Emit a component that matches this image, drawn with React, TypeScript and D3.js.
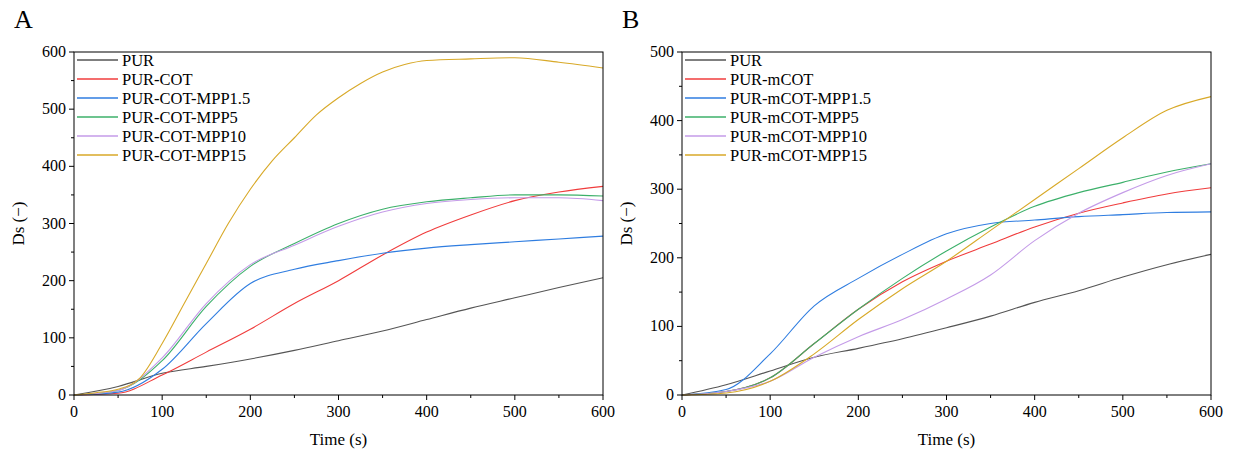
import React from "react";
import * as d3 from "d3";

const xs = [0, 50, 100, 150, 200, 250, 300, 350, 400, 450, 500, 550, 600];
const namesA = ["PUR", "PUR-COT", "PUR-COT-MPP1.5", "PUR-COT-MPP5", "PUR-COT-MPP10", "PUR-COT-MPP15"];
const namesB = ["PUR", "PUR-mCOT", "PUR-mCOT-MPP1.5", "PUR-mCOT-MPP5", "PUR-mCOT-MPP10", "PUR-mCOT-MPP15"];
const colors = ["#555555", "#f03c3c", "#2f7de0", "#3cb06a", "#c49be8", "#d8a928"];

const xsFine = [0, 25, 50, 75, 100, 125, 150, 175, 200, 225, 250, 275, 300, 325, 350, 375, 400, 450, 500, 550, 600];
const A_PUR = [0, 15, 38, 50, 63, 78, 95, 112, 132, 152, 170, 188, 205];
const A_COT = [0, 3, 35, 75, 115, 160, 200, 245, 285, 315, 340, 355, 365];
const A_M15 = [0, 5, 45, 125, 195, 220, 235, 248, 257, 263, 268, 273, 278];
const A_M5 = [0, 8, 60, 155, 225, 265, 300, 325, 338, 345, 350, 350, 348];
const A_M10 = [0, 8, 65, 160, 228, 262, 295, 320, 335, 342, 345, 345, 340];
const A_M150 = [0, 4, 10, 30, 90, 160, 230, 300, 360, 410, 450, 490, 520, 545, 565, 578, 585, 588, 590, 582, 572];

const B_PUR = [0, 15, 35, 55, 68, 82, 98, 115, 135, 152, 172, 190, 205];
const B_COT = [0, 5, 25, 75, 125, 165, 195, 220, 245, 265, 280, 293, 302];
const B_M15 = [0, 8, 60, 130, 170, 205, 235, 250, 255, 260, 263, 266, 267];
const B_M5 = [0, 5, 25, 75, 125, 170, 210, 245, 275, 295, 310, 325, 337];
const B_M10 = [0, 5, 20, 55, 85, 110, 140, 175, 225, 265, 295, 320, 337];
const B_M150 = [0, 3, 20, 60, 110, 155, 195, 240, 285, 330, 375, 415, 435];

const seriesA = [A_PUR, A_COT, A_M15, A_M5, A_M10].map(v => v.map((y, i) => [xs[i], y]))
  .concat([A_M150.map((y, i) => [xsFine[i], y])]);
const seriesB = [B_PUR, B_COT, B_M15, B_M5, B_M10, B_M150].map(v => v.map((y, i) => [xs[i], y]));

function Panel({ x0, x1, yMax, yStep, series, names, letter }: any) {
  const top = 52, bottom = 395;
  const x = d3.scaleLinear().domain([0, 600]).range([x0, x1]);
  const y = d3.scaleLinear().domain([0, yMax]).range([bottom, top]);
  const line = d3.line<number[]>().x(d => x(d[0])).y(d => y(d[1])).curve(d3.curveMonotoneX);
  const yt = d3.range(0, yMax + 1, yStep);
  const xt = d3.range(0, 601, 100);
  const font = "'Liberation Serif', 'Times New Roman', serif";
  return (
    <g fontFamily={font}>
      <text x={x0 - 60} y={28} fontSize={26}>{letter}</text>
      {series.map((s: number[][], i: number) => (
        <path key={i} d={line(s as any) || ""} fill="none" stroke={colors[i]} strokeWidth={1.1} />
      ))}
      <rect x={x0} y={top} width={x1 - x0} height={bottom - top} fill="none" stroke="#000" strokeWidth={1} />
      {xt.map(t => (
        <g key={t}>
          <line x1={x(t)} x2={x(t)} y1={bottom} y2={bottom + 5} stroke="#000" />
          <text x={x(t)} y={bottom + 22} fontSize={16} textAnchor="middle">{t}</text>
        </g>
      ))}
      {d3.range(50, 600, 100).map(t => (
        <line key={t} x1={x(t)} x2={x(t)} y1={bottom} y2={bottom + 3} stroke="#000" />
      ))}
      {yt.map(t => (
        <g key={t}>
          <line x1={x0 - 5} x2={x0} y1={y(t)} y2={y(t)} stroke="#000" />
          <text x={x0 - 8} y={y(t) + 5} fontSize={16} textAnchor="end">{t}</text>
        </g>
      ))}
      {d3.range(yStep / 2, yMax, yStep).map(t => (
        <line key={t} x1={x0 - 3} x2={x0} y1={y(t)} y2={y(t)} stroke="#000" />
      ))}
      <text x={(x0 + x1) / 2} y={bottom + 50} fontSize={17} textAnchor="middle">Time (s)</text>
      <text transform={`translate(${x0 - 50},${(top + bottom) / 2}) rotate(-90)`} fontSize={17} textAnchor="middle">Ds (−)</text>
      {names.map((n: string, i: number) => (
        <g key={n}>
          <line x1={x0 + 3} x2={x0 + 44} y1={60 + i * 19} y2={60 + i * 19} stroke={colors[i]} strokeWidth={1.3} />
          <text x={x0 + 48} y={66 + i * 19} fontSize={16.5}>{n}</text>
        </g>
      ))}
    </g>
  );
}

export default function App() {
  return (
    <svg width={1234} height={468} style={{ display: "block", position: "absolute", left: 0, top: 0, background: "#fff" }}>
      <Panel x0={74} x1={603} yMax={600} yStep={100} series={seriesA} names={namesA} letter="A" />
      <Panel x0={682} x1={1211} yMax={500} yStep={100} series={seriesB} names={namesB} letter="B" />
    </svg>
  );
}
